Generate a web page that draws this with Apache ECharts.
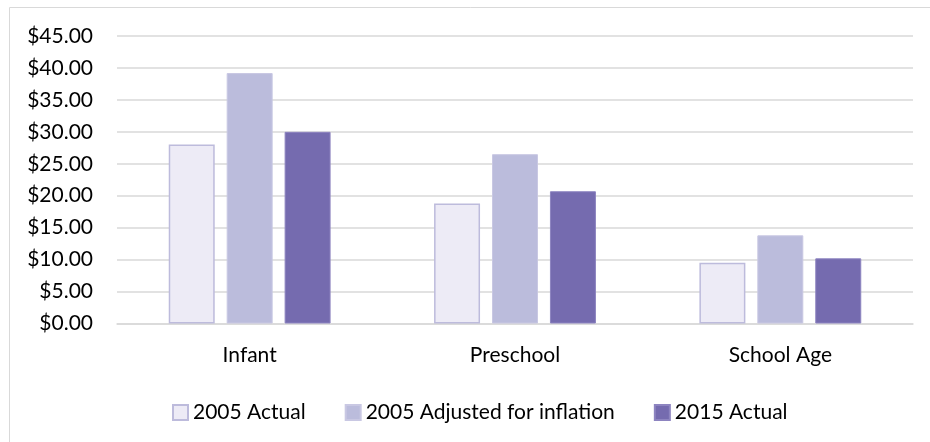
<!DOCTYPE html>
<html>
<head>
<meta charset="utf-8">
<script src="https://cdn.jsdelivr.net/npm/echarts@6/dist/echarts.min.js"></script>
<style>
  html, body { margin: 0; padding: 0; background: #fff; }
  #chart { width: 930px; height: 442px; }
</style>
</head>
<body>
<div id="chart"></div>
<script>
// data
const categories = ["Infant", "Preschool", "School Age"];
const actual2005 = [28.0, 18.8, 9.5];
const adjusted2005 = [39.2, 26.5, 13.8];
const actual2015 = [30.0, 20.7, 10.2];
const seriesNames = ["2005 Actual", "2005 Adjusted for inflation", "2015 Actual"];

const font = "Lato, 'Open Sans', sans-serif";
const chart = echarts.init(document.getElementById("chart"));

chart.setOption({
  animation: false,
  textStyle: { fontFamily: font },
  graphic: [{
    type: "rect",
    shape: { x: 9.5, y: 7.5, width: 940, height: 460 },
    style: { fill: "none", stroke: "#d9d9d9", lineWidth: 1 },
    silent: true
  }],
  grid: { left: 117, right: 17, top: 36, bottom: 118.5 },
  legend: {
    top: 397,
    left: 167,
    icon: "rect",
    itemWidth: 15,
    itemHeight: 15,
    itemGap: 39,
    textStyle: { color: "#000", fontSize: 21, fontFamily: font },
    data: seriesNames
  },
  xAxis: {
    type: "category",
    data: categories,
    axisTick: { show: false },
    axisLine: { lineStyle: { color: "#d9d9d9", width: 1.5 } },
    axisLabel: { color: "#000", fontSize: 21, margin: 21, fontFamily: font }
  },
  yAxis: {
    type: "value",
    min: 0,
    max: 45,
    interval: 5,
    axisLine: { show: false },
    axisTick: { show: false },
    splitLine: { lineStyle: { color: "#d9d9d9", width: 1.5 } },
    axisLabel: {
      color: "#000",
      fontSize: 21,
      margin: 24,
      fontFamily: font,
      formatter: v => "$" + v.toFixed(2)
    }
  },
  series: [
    {
      name: seriesNames[0],
      type: "bar",
      data: actual2005,
      barGap: "26%",
      barCategoryGap: "39%",
      itemStyle: { color: "#edebf6", borderColor: "#bdbbdc", borderWidth: 1.5 }
    },
    {
      name: seriesNames[1],
      type: "bar",
      data: adjusted2005,
      itemStyle: { color: "#bbbcdc", borderColor: "#c9c8e3", borderWidth: 1 }
    },
    {
      name: seriesNames[2],
      type: "bar",
      data: actual2015,
      itemStyle: { color: "#756baf", borderColor: "#8d84c0", borderWidth: 1 }
    }
  ]
});
</script>
</body>
</html>
